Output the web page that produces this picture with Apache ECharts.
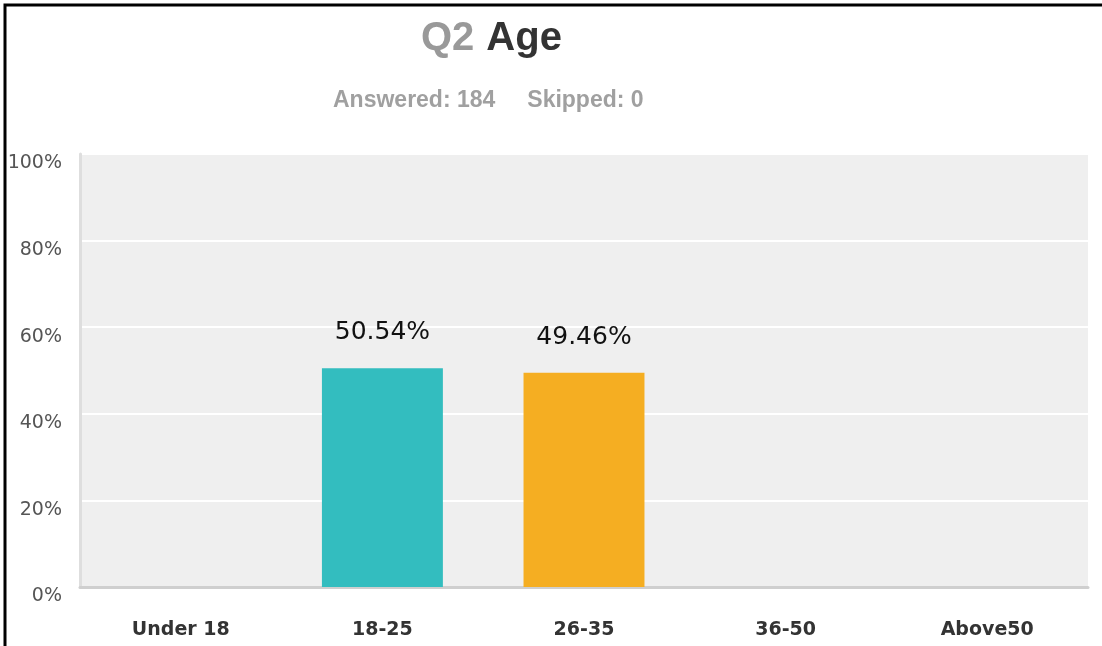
<!DOCTYPE html>
<html>
	<head>
		<title>Q2 Age</title>
		<script src="https://cdn.jsdelivr.net/npm/echarts@6/dist/echarts.min.js"></script>
	</head>
	<body style="margin:0;padding:0">
		<div id="ageChart" style="width: 1102px;height:646px;"></div>
	</body>
	<script type="text/javascript">
var categories = ['Under 18', '18-25', '26-35', '36-50', 'Above50'];
var percents = [0, 50.54, 49.46, 0, 0];
var barColors = ['#33bdbf', '#33bdbf', '#f5ae22', '#33bdbf', '#33bdbf'];
var yTicks = [0, 20, 40, 60, 80, 100];
var answered = 184;
var skipped = 0;

var myChart = echarts.init(document.getElementById('ageChart'));

var option = {
    backgroundColor: '#fff',
    title: [{
        text: '{q|Q2}{s| }{t|Age}',
        left: 416,
        top: 0,
        textStyle: {
            rich: {
                q: { color: '#999', fontSize: 40, fontWeight: 'bold', fontFamily: 'Liberation Sans' },
                s: { fontSize: 40, width: 12 },
                t: { color: '#333', fontSize: 40, fontWeight: 'bold', fontFamily: 'Liberation Sans' }
            }
        }
    }, {
        text: 'Answered: ' + answered + '     Skipped: ' + skipped,
        left: 328,
        top: 76,
        textStyle: {
            color: '#a0a0a0',
            fontSize: 23,
            fontWeight: 'bold',
            fontFamily: 'Liberation Sans'
        }
    }],
    grid: {
        left: 80,
        right: 14,
        top: 154,
        bottom: 59,
        outerBoundsMode: 'none',
        containLabel: false,
        show: true,
        backgroundColor: '#efefef',
        borderWidth: 0
    },
    xAxis: {
        type: 'category',
        data: categories,
        axisTick: { show: false },
        axisLine: { lineStyle: { color: '#cfcfcf', width: 3 } },
        axisLabel: {
            margin: 23,
            color: '#333',
            fontSize: 19,
            fontWeight: 'bold',
            fontFamily: 'DejaVu Sans'
        }
    },
    yAxis: {
        type: 'value',
        min: yTicks[0],
        max: yTicks[yTicks.length - 1],
        interval: 20,
        axisLine: { show: true, lineStyle: { color: '#dedede', width: 3 } },
        axisTick: { show: false },
        splitLine: { lineStyle: { color: '#fff', width: 2 } },
        axisLabel: {
            margin: 18,
            color: '#555',
            fontSize: 19,
            lineHeight: 19,
            fontFamily: 'DejaVu Sans',
            verticalAlign: 'top',
            formatter: '{value}%'
        }
    },
    series: [{
        type: 'bar',
        barWidth: '60%',
        data: percents.map(function (v, i) {
            return { value: v, itemStyle: { color: barColors[i] } };
        }),
        label: {
            show: true,
            position: 'top',
            distance: 11,
            color: '#111',
            fontSize: 25,
            fontFamily: 'DejaVu Sans',
            formatter: function (p) {
                return p.value > 0 ? p.value.toFixed(2) + '%' : '';
            }
        }
    }],
    graphic: [{
        type: 'polyline',
        shape: { points: [[5, 646], [5, 5], [1102, 5]] },
        style: { stroke: '#000', lineWidth: 3, fill: null }
    }]
};

myChart.setOption(option);
	</script>
</html>
